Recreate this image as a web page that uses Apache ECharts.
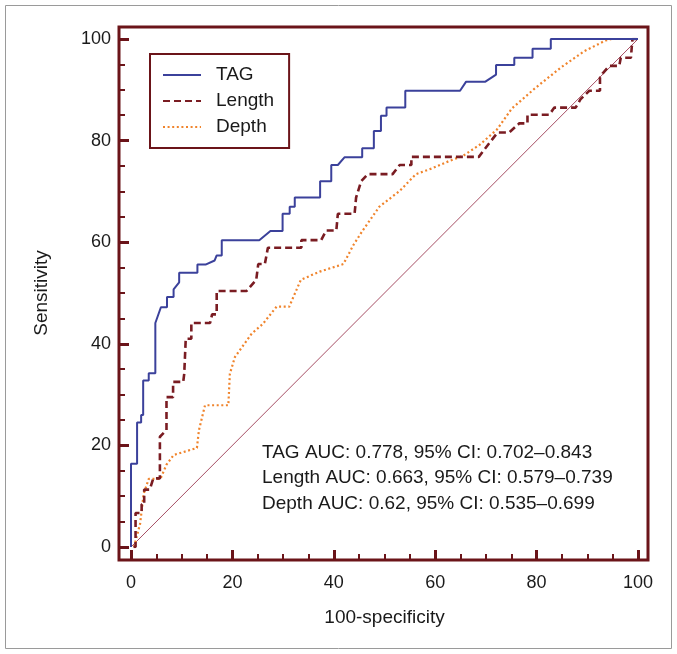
<!DOCTYPE html>
<html><head><meta charset="utf-8">
<script src="https://cdn.jsdelivr.net/npm/echarts@6/dist/echarts.min.js"></script>
<style>html,body{margin:0;padding:0;background:#fff}#c{width:677px;height:654px}</style>
</head><body><div id="c"></div>
<script>
// ---- data ----
const seriesNames = ['TAG', 'Length', 'Depth'];
const xTickLabels = [0, 20, 40, 60, 80, 100];
const yTickLabels = [0, 20, 40, 60, 80, 100];

const tagX = [0,0,1.2,1.2,2.0,2.0,2.4,2.4,3.5,3.5,4.8,4.8,5.9,7.1,7.1,8.4,8.4,9.5,9.5,13.1,13.1,14.7,16.5,16.9,17.9,17.9,25.3,27.5,29.9,29.9,31.3,31.3,32.3,32.3,37.3,37.3,39.5,39.5,40.8,42.1,45.6,45.6,47.9,47.9,49.3,49.3,50.4,50.4,54.1,54.1,64.9,66.1,69.9,72.0,72.0,75.6,75.6,79.2,79.2,82.8,82.8,100];
const tagY = [0,16.4,16.4,24.5,24.5,26.0,26.0,32.8,32.8,34.2,34.2,44.1,47.2,47.2,49.2,49.2,50.7,52.1,54.0,54.0,55.6,55.6,56.4,57.4,57.4,60.4,60.4,62.2,62.2,65.6,65.6,67.0,67.0,68.8,68.8,72.0,72.0,75.2,75.2,76.7,76.7,78.5,78.5,81.9,81.9,84.9,84.9,86.5,86.5,89.8,89.8,91.6,91.6,93.0,94.9,94.9,96.3,96.3,98.1,98.1,100,100];

const lengthX = [0.5,0.9,0.9,2.1,2.1,2.6,2.6,3.7,4.4,5.7,5.7,7.0,7.0,8.3,8.3,10.3,10.5,10.8,11.9,11.9,15.6,16.0,16.9,16.9,22.8,24.7,25.1,26.4,27.0,33.6,33.6,37.5,38.5,40.5,40.8,44.1,44.4,45.4,46.7,51.6,53.0,55.3,55.3,68.6,69.9,72.3,74.6,76.6,78.2,78.2,82.5,83.5,87.7,88.7,90.4,92.5,92.5,93.0,94.3,96.3,96.6,98.6,98.9,100];
const lengthY = [0,0,6.7,6.7,8.4,8.4,11.3,11.3,13.5,13.5,21.7,23.0,29.5,29.5,32.5,32.5,34.1,41.0,41.0,44.1,44.1,45.8,45.8,50.4,50.4,52.6,55.7,55.7,58.9,58.9,60.4,60.4,62.3,62.3,65.6,65.6,68.8,72.0,73.4,73.4,75.2,75.2,76.8,76.8,78.5,81.6,81.6,83.4,83.4,85.1,85.1,86.5,86.5,88.2,89.8,89.8,92.4,93.2,94.7,94.7,96.3,96.3,100,100];

const depthX = [0.6,1.8,2.5,3.5,5.8,7.0,8.4,13.0,13.4,14.6,19.2,19.5,20.5,23.8,26.0,28.7,31.2,33.5,37.2,41.9,43.9,45.7,49.0,53.0,56.2,59.3,62.8,65.5,68.8,72.2,75.1,79.8,84.8,89.4,93.6,94.8,100];
const depthY = [0,4.6,10.5,13.4,13.4,16.2,18.1,19.5,23.0,27.9,27.9,34.1,37.4,42.0,43.9,47.3,47.3,52.6,54.2,55.7,59.5,62.3,67.0,70.1,73.4,74.5,76.0,77.0,79.2,82.2,86.3,90.4,94.4,97.6,99.7,100,100];

const diagX = [0, 100];
const diagY = [0, 100];

const annotationLines = [
  'TAG AUC: 0.778, 95% CI: 0.702\u20130.843',
  'Length AUC: 0.663, 95% CI: 0.579\u20130.739',
  'Depth AUC: 0.62, 95% CI: 0.535\u20130.699'
];

// ---- styling ----
const FRAME = '#6b1419';
const FONT = 'Liberation Sans, Arial, sans-serif';
const pair = (xs, ys) => xs.map((x, i) => [x, ys[i]]);

const grid = { left: 131, top: 39, right: 39, bottom: 107 };
const W = 677, H = 654;
const frame = { x: grid.left - 12, y: grid.top - 12, x2: W - grid.right + 10, y2: H - grid.bottom + 13 };

function axisCommon(name) {
  return {
    type: 'value', min: 0, max: 100, interval: 20,
    name: name, nameLocation: 'middle',
    nameTextStyle: { fontFamily: FONT, fontSize: 19, color: '#1a1a1a' },
    axisLine: { show: false, onZero: false },
    axisTick: { show: true, inside: true, length: 10, lineStyle: { color: FRAME, width: 3 } },
    minorTick: { show: true, splitNumber: 4, length: 6, lineStyle: { color: FRAME, width: 2 } },
    splitLine: { show: false },
    minorSplitLine: { show: false },
    axisLabel: { fontFamily: FONT, fontSize: 18, color: '#1a1a1a' }
  };
}

const xAxis = Object.assign(axisCommon('100-specificity'), { offset: 13, nameGap: 48 });
xAxis.axisLabel.margin = 14;
const yAxis = Object.assign(axisCommon('Sensitivity'), { offset: 12, nameGap: 68 });
yAxis.axisLabel.margin = 8;

const chart = echarts.init(document.getElementById('c'), null, { renderer: 'canvas' });
chart.setOption({
  animation: false,
  backgroundColor: '#fff',
  grid: grid,
  xAxis: xAxis,
  yAxis: yAxis,
  legend: {
    data: seriesNames,
    orient: 'vertical',
    left: 150, top: 54,
    padding: [11, 15, 11, 12],
    itemGap: 6,
    itemWidth: 38, itemHeight: 14,
    borderColor: FRAME, borderWidth: 2,
    itemStyle: { opacity: 0 },
    textStyle: { fontFamily: FONT, fontSize: 19, color: '#1a1a1a', lineHeight: 20, padding: [0, 0, 0, 10] }
  },
  series: [
    { name: 'diag', type: 'line', data: pair(diagX, diagY), symbol: 'none', silent: true,
      lineStyle: { color: '#9c3a52', width: 0.9 }, z: 1 },
    { name: seriesNames[2], type: 'line', data: pair(depthX, depthY), symbol: 'none',
      itemStyle: { color: '#f0842c' },
      lineStyle: { color: '#f0842c', width: 2.2, type: [2, 2.6] }, z: 2 },
    { name: seriesNames[1], type: 'line', data: pair(lengthX, lengthY), symbol: 'none',
      itemStyle: { color: '#7a1c22' },
      lineStyle: { color: '#7a1c22', width: 2.6, type: [7, 4] }, z: 3 },
    { name: seriesNames[0], type: 'line', data: pair(tagX, tagY), symbol: 'none',
      itemStyle: { color: '#3b419b' },
      lineStyle: { color: '#3b419b', width: 2 }, z: 4 }
  ],
  graphic: [
    { type: 'rect', z: 0, silent: true,
      shape: { x: 5.5, y: 5.5, width: W - 11, height: H - 11 },
      style: { fill: 'none', stroke: '#9a9a9a', lineWidth: 1 } },
    { type: 'rect', z: 10, silent: true,
      shape: { x: frame.x, y: frame.y, width: frame.x2 - frame.x, height: frame.y2 - frame.y },
      style: { fill: 'none', stroke: FRAME, lineWidth: 3 } },
    { type: 'text', z: 10, left: 262, top: 440, silent: true,
      style: { text: annotationLines.join('\n'), font: '19px ' + FONT, lineHeight: 25.5, fill: '#1a1a1a' } }
  ]
});
</script></body></html>
